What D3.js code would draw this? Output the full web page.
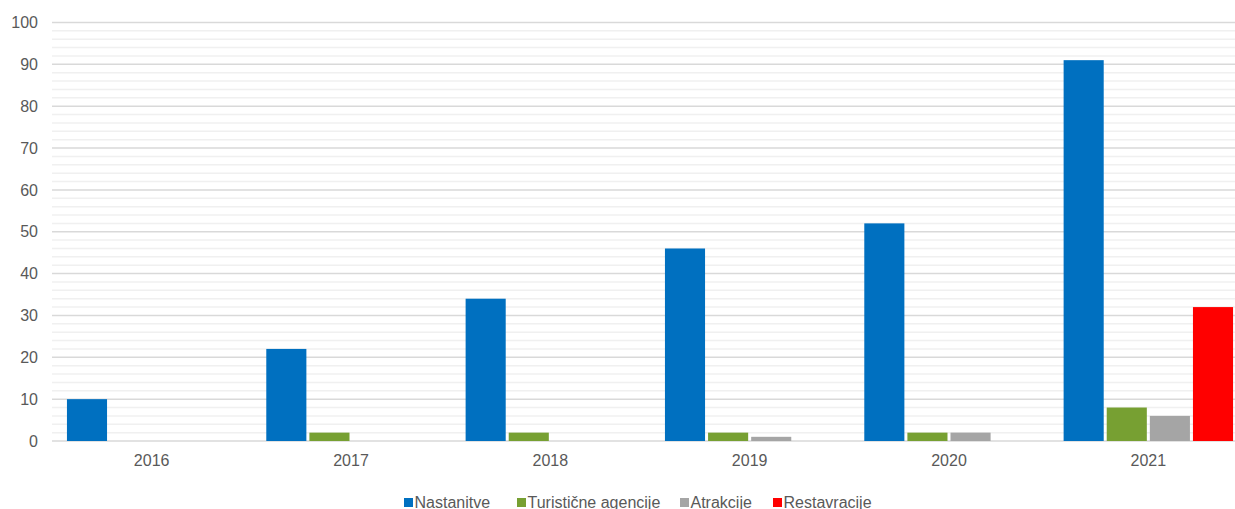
<!DOCTYPE html>
<html>
<head>
<meta charset="utf-8">
<script src="https://cdn.jsdelivr.net/npm/d3@7"></script>
<style>
  html, body { margin: 0; padding: 0; background: #fff; overflow: hidden; }
  svg { display: block; font-family: "Liberation Sans", Arial, sans-serif; }
</style>
</head>
<body>
<svg id="chart" width="1235" height="509"></svg>
<script>
// Years on the category axis
const years = ["2016", "2017", "2018", "2019", "2020", "2021"];

// Series names and their yearly counts
const seriesNames = ["Nastanitve", "Turistične agencije", "Atrakcije", "Restavracije"];
const nastanitve = [10, 22, 34, 46, 52, 91];
const turisticneAgencije = [0, 2, 2, 2, 2, 8];
const atrakcije = [0, 0, 0, 1, 2, 6];
const restavracije = [0, 0, 0, 0, 0, 32];
const seriesColors = ["#0070C0", "#77A032", "#A5A5A5", "#FF0000"];

// Value axis ticks
const yTicks = [0, 10, 20, 30, 40, 50, 60, 70, 80, 90, 100];

const seriesValues = [nastanitve, turisticneAgencije, atrakcije, restavracije];
const rows = years.map((yr, i) => ({
  year: yr,
  values: seriesNames.map((name, s) => ({ name, value: seriesValues[s][i], color: seriesColors[s] }))
}));

const svg = d3.select("#chart");
const W = 1235;
const plotLeft = 52, plotRight = 1248, plotTop = 22.5, plotBottom = 441;
const textColor = "#595959";
const fontSize = 16;

const x0 = d3.scaleBand().domain(years).range([plotLeft, plotRight])
  .paddingInner(0.15).paddingOuter(0.075);
const x1 = d3.scaleBand().domain(seriesNames).range([0, x0.bandwidth()]).paddingInner(0.07);
const y = d3.scaleLinear().domain([0, 100]).range([plotBottom, plotTop]);

// Minor gridlines every 2 units
const minor = d3.range(2, 100, 2).filter(v => v % 10 !== 0);
svg.append("g").selectAll("line").data(minor).join("line")
  .attr("x1", plotLeft).attr("x2", W)
  .attr("y1", d => y(d)).attr("y2", d => y(d))
  .attr("stroke", "#f0f0f0").attr("stroke-width", 1.5);

// Major gridlines
svg.append("g").selectAll("line").data(yTicks).join("line")
  .attr("x1", plotLeft).attr("x2", W)
  .attr("y1", d => y(d)).attr("y2", d => y(d))
  .attr("stroke", "#d9d9d9").attr("stroke-width", 1.5);

// Y axis labels
const yAxis = svg.append("g").attr("transform", `translate(38,0)`)
  .call(d3.axisLeft(y).tickValues(yTicks).tickSize(0).tickPadding(0));
yAxis.select(".domain").remove();
yAxis.selectAll("text").attr("fill", textColor).attr("font-size", fontSize)
  .attr("font-family", "Liberation Sans, Arial, sans-serif");

// Bars
const groups = svg.append("g").selectAll("g").data(rows).join("g")
  .attr("transform", d => `translate(${x0(d.year)},0)`);
groups.selectAll("rect").data(d => d.values.filter(v => v.value > 0)).join("rect")
  .attr("x", d => x1(d.name))
  .attr("width", x1.bandwidth())
  .attr("y", d => y(d.value))
  .attr("height", d => y(0) - y(d.value))
  .attr("fill", d => d.color);

// X axis labels
const xAxis = svg.append("g").attr("transform", `translate(0,${plotBottom + 13.5})`)
  .call(d3.axisBottom(x0).tickSize(0).tickPadding(0));
xAxis.select(".domain").remove();
xAxis.selectAll("text").attr("fill", textColor).attr("font-size", fontSize)
  .attr("font-family", "Liberation Sans, Arial, sans-serif");

// Legend
const legendX = [404, 517, 680, 773];
const legend = svg.append("g").selectAll("g").data(seriesNames).join("g")
  .attr("transform", (d, i) => `translate(${legendX[i]},0)`);
legend.append("rect").attr("x", 0).attr("y", 498).attr("width", 9).attr("height", 9)
  .attr("fill", (d, i) => seriesColors[i]);
legend.append("text").attr("x", 10.5).attr("y", 507.5)
  .attr("fill", textColor).attr("font-size", fontSize)
  .text(d => d);
</script>
</body>
</html>
